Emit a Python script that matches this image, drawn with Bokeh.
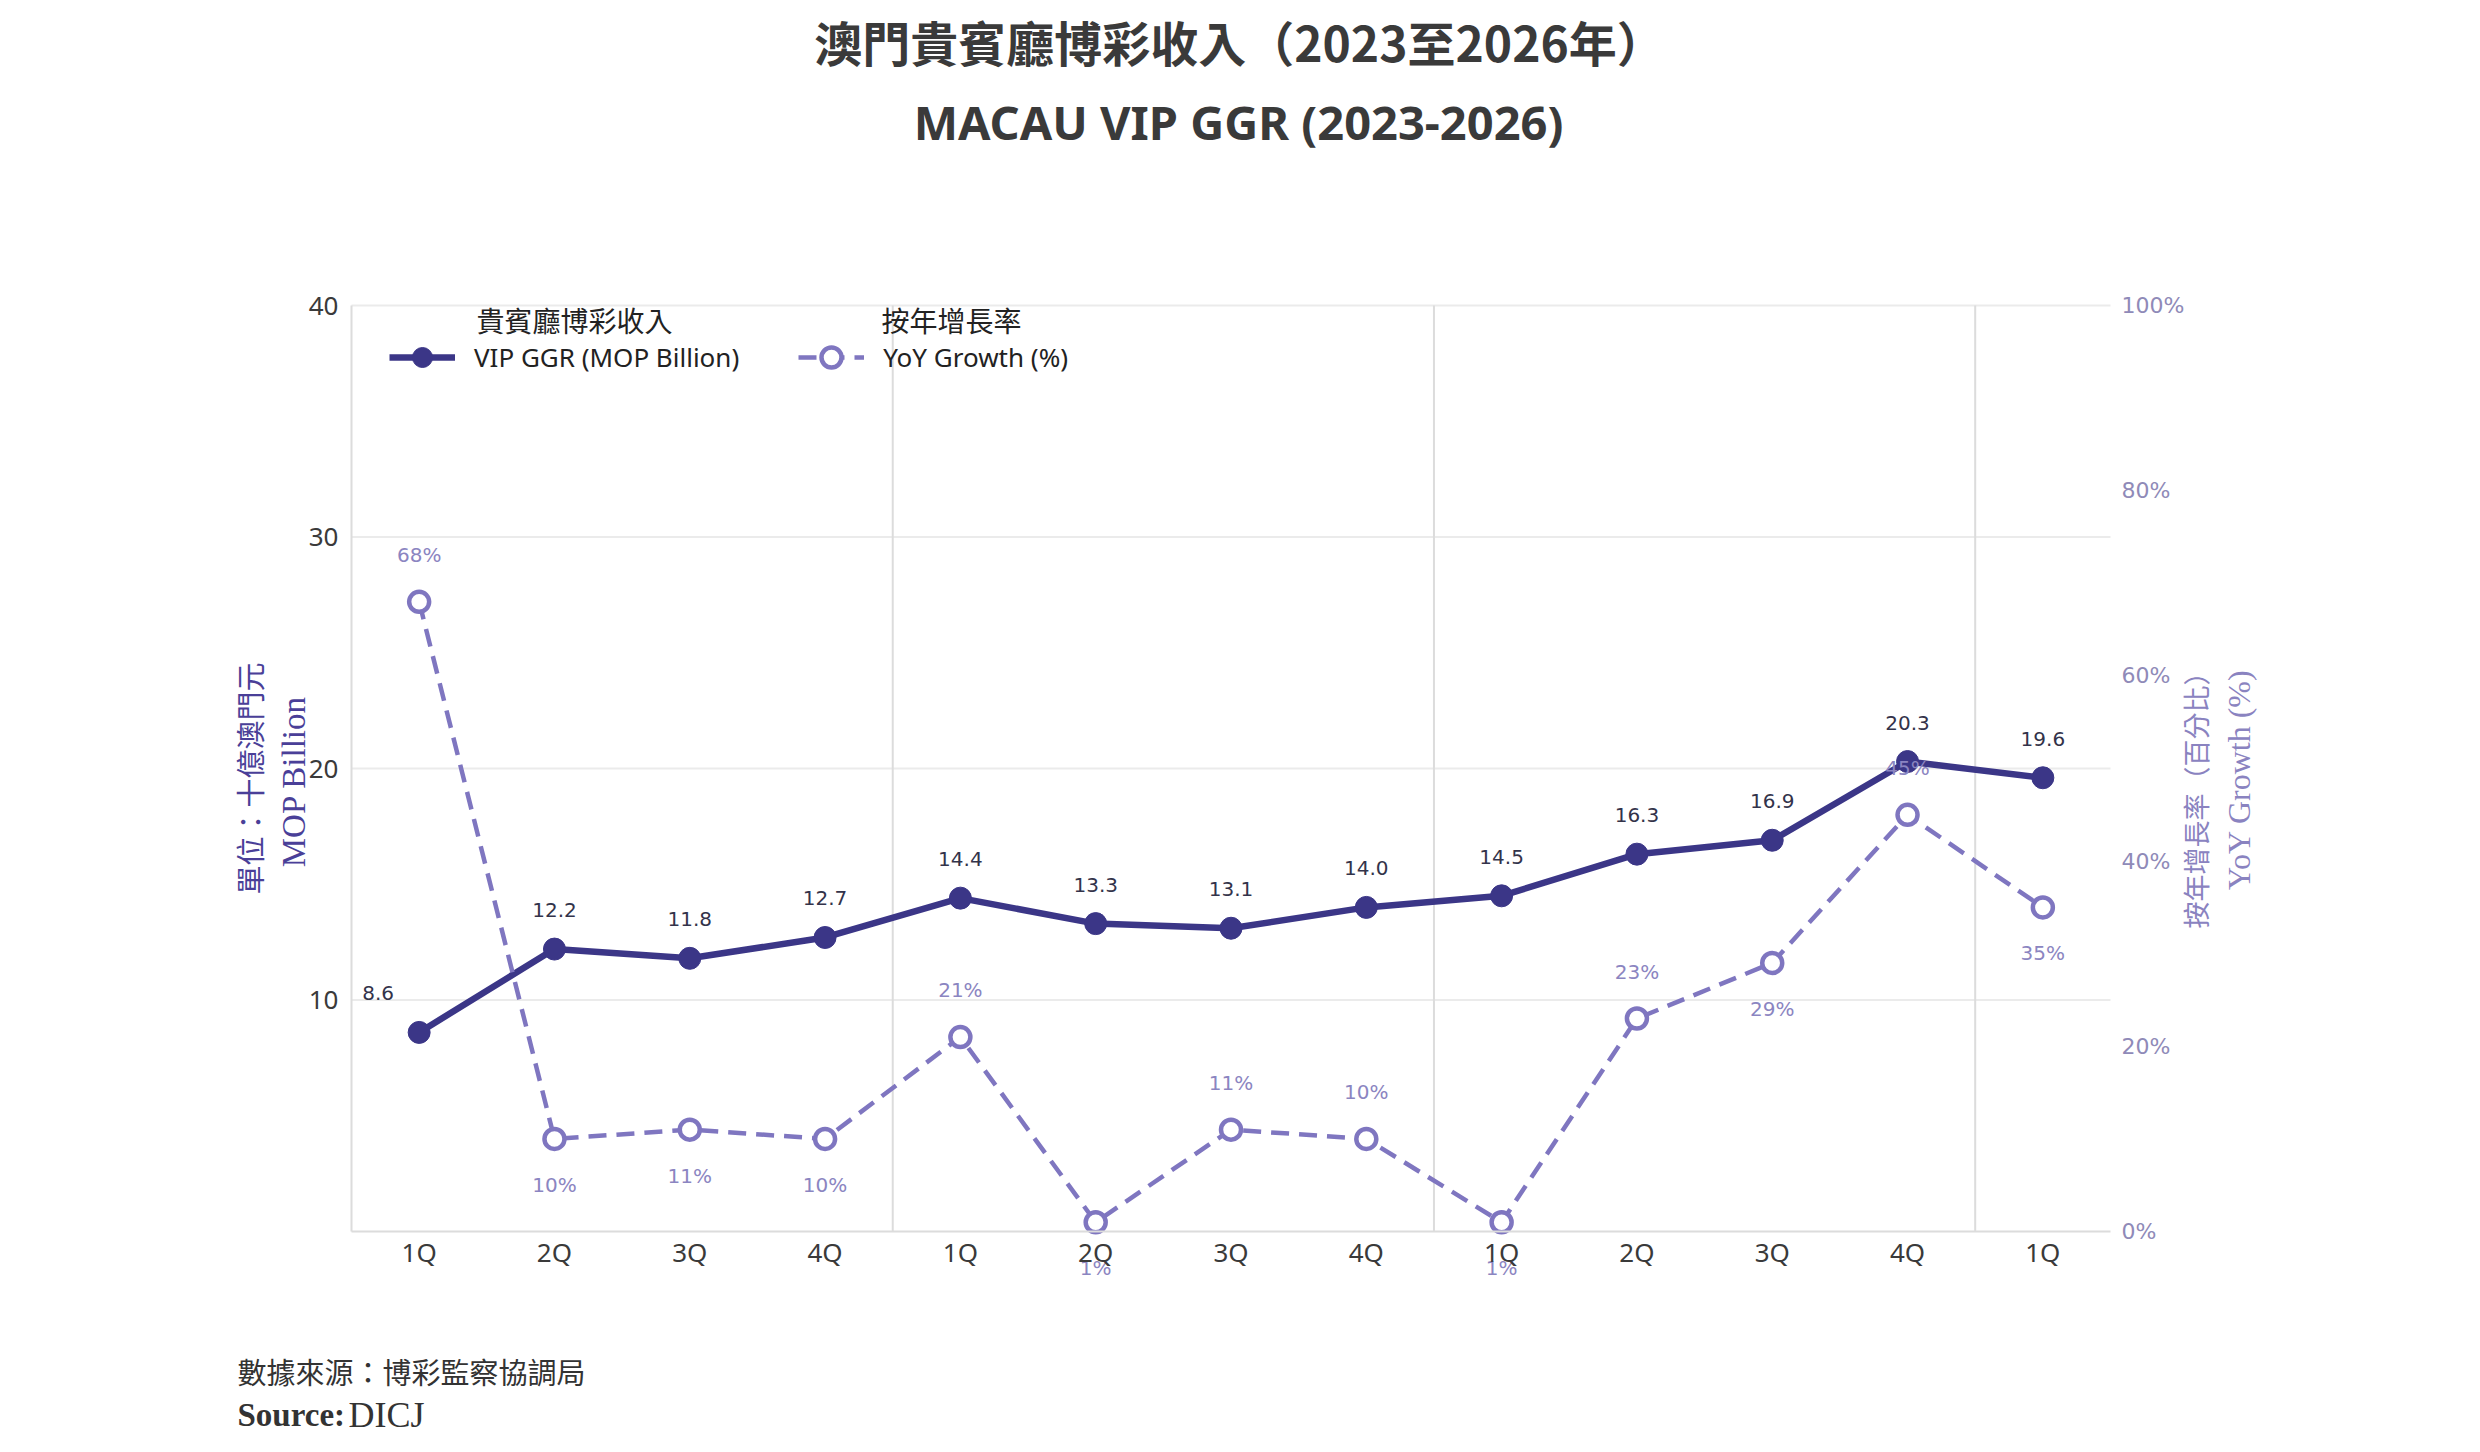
from math import pi

from bokeh.plotting import figure
from bokeh.models import (Range1d, LinearAxis, FixedTicker, Label, Legend,
                          LegendItem, PrintfTickFormatter)
from bokeh.core.properties import value
from bokeh.embed import file_html
from bokeh.resources import INLINE

# data
quarters = ["1Q", "2Q", "3Q", "4Q", "1Q", "2Q", "3Q", "4Q", "1Q", "2Q", "3Q", "4Q", "1Q"]
years = [2023, 2023, 2023, 2023, 2024, 2024, 2024, 2024, 2025, 2025, 2025, 2025, 2026]
vip_ggr = [8.6, 12.2, 11.8, 12.7, 14.4, 13.3, 13.1, 14.0, 14.5, 16.3, 16.9, 20.3, 19.6]
yoy_growth = [68, 10, 11, 10, 21, 1, 11, 10, 1, 23, 29, 45, 35]
left_ticks = [10, 20, 30, 40]
right_ticks = [0, 20, 40, 60, 80, 100]

# label placement (style only)
ggr_label_dx = [-41, 0, 0, 0, 0, 0, 0, 0, 0, 0, 0, 0, 0]
yoy_label_side = ["above", "below", "below", "below", "above", "below", "above",
                  "above", "below", "above", "below", "above", "below"]

GGR_COLOR = "#3b3687"
YOY_COLOR = "#7f76c0"
TEXT_DARK = "#3a3a3a"
GRID_COLOR = "#ebebeb"

# canvas and plot-area box in pixels (the frame spans the whole canvas,
# axes are pinned to the edges of the plotting area so nothing gets clipped)
W, H = 2464, 1436
PL, PR, PT, PB = 351, 2110, 305, 1231

idx = list(range(len(quarters)))
x_lo, x_hi = -0.5, len(quarters) - 0.5
y_lo, y_hi = 0, 40
g_lo, g_hi = 0, 100


def pad_range(lo, hi, a, b, size, flip=False):
    # extend [lo, hi] (mapped to pixel a..b) to cover 0..size
    per = (hi - lo) / (b - a)
    if flip:
        return Range1d(lo - (size - b) * per, hi + a * per)
    return Range1d(lo - a * per, hi + (size - b) * per)


p = figure(
    width=W,
    height=H,
    x_range=pad_range(x_lo, x_hi, PL, PR, W),
    y_range=pad_range(y_lo, y_hi, PT, PB, H, flip=True),
    output_backend="svg",
    toolbar_location=None,
    min_border=0,
)
p.outline_line_color = None
p.background_fill_color = "white"
p.border_fill_color = "white"
p.xgrid.visible = False
p.ygrid.visible = False
p.extra_y_ranges = {"yoy": pad_range(g_lo, g_hi, PT, PB, H, flip=True)}

# grid lines and year separators, limited to the plotting area
p.segment(x0=x_lo, x1=x_hi, y0=left_ticks, y1=left_ticks, line_color=GRID_COLOR, line_width=2)
year_breaks = [i - 0.5 for i in range(1, len(years)) if years[i] != years[i - 1]]
p.segment(x0=year_breaks, x1=year_breaks, y0=y_lo, y1=y_hi, line_color="#dcdcdc", line_width=2)

# left axis
p.yaxis.fixed_location = x_lo
p.yaxis.bounds = (y_lo, y_hi)
p.yaxis.ticker = FixedTicker(ticks=left_ticks)
p.yaxis.major_tick_line_color = None
p.yaxis.minor_tick_line_color = None
p.yaxis.axis_line_color = "#dcdcdc"
p.yaxis.axis_line_width = 2
p.yaxis.major_label_standoff = 7
p.yaxis.major_label_text_font = "Noto Sans"
p.yaxis.major_label_text_font_size = "26px"
p.yaxis.major_label_text_color = TEXT_DARK

# bottom axis
p.xaxis.fixed_location = y_lo
p.xaxis.bounds = (x_lo, x_hi)
p.xaxis.ticker = FixedTicker(ticks=idx)
p.xaxis.major_label_overrides = {i: q for i, q in zip(idx, quarters)}
p.xaxis.major_tick_line_color = None
p.xaxis.minor_tick_line_color = None
p.xaxis.axis_line_color = "#dcdcdc"
p.xaxis.axis_line_width = 2
p.xaxis.major_label_standoff = -4
p.xaxis.major_label_text_font = "Noto Sans"
p.xaxis.major_label_text_font_size = "26px"
p.xaxis.major_label_text_color = TEXT_DARK

# right axis for growth
right = LinearAxis(y_range_name="yoy", ticker=FixedTicker(ticks=right_ticks),
                   formatter=PrintfTickFormatter(format="%d%%"),
                   fixed_location=x_hi, bounds=(g_lo, g_hi))
right.axis_line_color = None
right.major_tick_line_color = None
right.minor_tick_line_color = None
right.major_label_standoff = 5
right.major_label_text_font = "DejaVu Sans"
right.major_label_text_font_size = "22px"
right.major_label_text_color = "#8f8ab8"
p.add_layout(right, "right")

# series
ggr_line = p.line(idx, vip_ggr, color=GGR_COLOR, line_width=6.5)
ggr_pts = p.scatter(idx, vip_ggr, size=22, color=GGR_COLOR)
yoy_line = p.line(idx, yoy_growth, y_range_name="yoy", color=YOY_COLOR,
                  line_width=4.5, line_dash="18 10")
yoy_pts = p.scatter(idx, yoy_growth, y_range_name="yoy", size=20, fill_color="white",
                    line_color=YOY_COLOR, line_width=4.5)

# value labels
p.text(idx, vip_ggr, text=[f"{v:.1f}" for v in vip_ggr], x_offset=ggr_label_dx, y_offset=-39,
       text_align="center", text_baseline="middle", text_font=value("DejaVu Sans"),
       text_font_size="20px", text_color="#33334a")
p.text(idx, yoy_growth, y_range_name="yoy", text=[f"{v}%" for v in yoy_growth],
       y_offset=[-47 if s == "above" else 46 for s in yoy_label_side],
       text_align="center", text_baseline="middle", text_font=value("DejaVu Sans"),
       text_font_size="20px", text_color="#8b85c1")

# legend
legend = Legend(
    items=[LegendItem(label="VIP GGR (MOP Billion)", renderers=[ggr_line, ggr_pts]),
           LegendItem(label="YoY Growth (%)", renderers=[yoy_line, yoy_pts])],
    location=(389, H - 382), orientation="horizontal",
    glyph_width=66, glyph_height=50, label_standoff=19, spacing=59,
    padding=10, margin=0,
    label_text_font="Noto Sans", label_text_font_size="26px", label_text_color="#222222",
    border_line_color=None, background_fill_alpha=0,
)
p.add_layout(legend)


def add_text(x, y, text, font, size, color, align="left", angle=0.0, style="normal"):
    # x, y in canvas pixels measured from the top-left corner
    p.add_layout(Label(x=x, y=H - y, x_units="screen", y_units="screen", text=text,
                       text_font=font, text_font_size=size, text_color=color,
                       text_align=align, text_baseline="middle", angle=angle,
                       text_font_style=style))


# legend headers
add_text(476, 319, "貴賓廳博彩收入", "Noto Sans CJK TC", "28px", "#222222")
add_text(881, 319, "按年增長率", "Noto Sans CJK TC", "28px", "#222222")

# titles
add_text(1239, 40, "澳門貴賓廳博彩收入（2023至2026年）", "Noto Sans CJK TC", "48px", TEXT_DARK,
         align="center", style="bold")
add_text(1238, 121, "MACAU VIP GGR (2023-2026)", "Noto Sans", "47px", TEXT_DARK,
         align="center", style="bold")

# axis titles
add_text(248, 778, "單位：十億澳門元", "Noto Sans CJK TC", "29px", "#4a3f98",
         align="center", angle=pi / 2)
add_text(293, 781, "MOP Billion", "Liberation Serif", "33px", "#4a3f98",
         align="center", angle=pi / 2)
add_text(2195, 793, "按年增長率（百分比）", "Noto Sans CJK TC", "27px", "#8a83c0",
         align="center", angle=pi / 2)
add_text(2238, 779, "YoY Growth (%)", "Liberation Serif", "32px", "#8a83c0",
         align="center", angle=pi / 2)

# source
add_text(237, 1370, "數據來源：博彩監察協調局", "Noto Sans CJK TC", "29px", "#333333")
add_text(237, 1414, "Source:", "Liberation Serif", "33px", "#333333", style="bold")
add_text(348, 1414, "DICJ", "Liberation Serif", "36px", "#333333")

open("out.html", "w").write(file_html(p, INLINE))
